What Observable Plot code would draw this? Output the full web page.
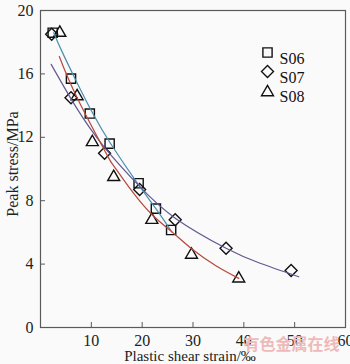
<!DOCTYPE html>
<html>
<head>
<meta charset="utf-8">
<script src="https://cdn.jsdelivr.net/npm/d3@7"></script>
<script src="https://cdn.jsdelivr.net/npm/@observablehq/plot@0.6"></script>
<style>
  html, body { margin: 0; padding: 0; background: #fafafa; }
  #chart svg { display: block; background: #fafafa; }
</style>
</head>
<body>
<div id="chart"></div>
<script>
// ---- data ----
const seriesNames = ["S06", "S07", "S08"];
const s06Strain = [2.4, 6.0, 9.7, 13.6, 19.3, 22.7, 25.7];
const s06Stress = [18.6, 15.7, 13.5, 11.6, 9.1, 7.5, 6.15];
const s07Strain = [2.2, 6.0, 12.6, 19.5, 26.5, 36.5, 49.3];
const s07Stress = [18.5, 14.5, 11.0, 8.7, 6.8, 5.0, 3.6];
const s08Strain = [3.8, 7.2, 10.2, 14.4, 21.9, 29.7, 39.0];
const s08Stress = [18.7, 14.7, 11.8, 9.6, 6.9, 4.7, 3.2];
// fitted curves, points
const fit06Strain = [2.6, 4.1, 6.8, 10.3, 14.0, 19.3, 22.7, 25.9];
const fit06Stress = [18.6, 17.5, 15.7, 13.5, 11.5, 9.0, 7.5, 6.0];
const fit07Strain = [2.1, 7.0, 12.5, 19.5, 26.5, 36.5, 43.2, 50.8];
const fit07Stress = [16.6, 13.9, 11.4, 8.9, 6.9, 5.0, 4.05, 3.2];
const fit08Strain = [3.7, 7.2, 12.9, 14.4, 18.0, 22.0, 25.8, 29.8, 34.5, 39.0];
const fit08Stress = [17.1, 14.5, 11.0, 10.2, 8.6, 7.1, 6.05, 4.95, 3.9, 3.1];
const xTicks = [10, 20, 30, 40, 50, 60];
const yTicks = [0, 4, 8, 12, 16, 20];
const xLabel = "Plastic shear strain/‰";
const yLabel = "Peak stress/MPa";
const watermark = "有色金属在线";

// ---- build ----
const zip = (xs, ys) => xs.map((x, i) => ({x, y: ys[i]}));
const pts = [zip(s06Strain, s06Stress), zip(s07Strain, s07Stress), zip(s08Strain, s08Stress)];
const fits = [zip(fit06Strain, fit06Stress), zip(fit07Strain, fit07Stress), zip(fit08Strain, fit08Stress)];
const lineColors = ["#4a8fab", "#5f5a92", "#b8473a"];

const symSquare = {draw(c) { const h = 4.6; c.rect(-h, -h, 2*h, 2*h); }};
const symDiamond = {draw(c) { const h = 6; c.moveTo(0, -h); c.lineTo(h, 0); c.lineTo(0, h); c.lineTo(-h, 0); c.closePath(); }};
const symTriangle = {draw(c) { const s = 12, hh = s * Math.sqrt(3) / 2; c.moveTo(0, -hh/2); c.lineTo(s/2, hh/2); c.lineTo(-s/2, hh/2); c.closePath(); }};
const symbols = [symSquare, symDiamond, symTriangle];

const font = "'Liberation Serif', 'Times New Roman', serif";
const marks = [
  Plot.frame({stroke: "#5a5a5a", strokeWidth: 1.2}),
  Plot.ruleX(xTicks, {x: d => d, y1: 0, y2: 0, insetTop: -5, stroke: "#5a5a5a"}),
  Plot.ruleY(yTicks, {y: d => d, x1: 0, x2: 0, insetRight: -5, stroke: "#5a5a5a"}),
  Plot.axisX(xTicks, {tickSize: 0, tickPadding: 7, fontSize: 16, fontFamily: font, label: null, color: "#222"}),
  Plot.axisY(yTicks, {tickSize: 0, tickPadding: 7, fontSize: 16, fontFamily: font, label: null, color: "#222"}),
  Plot.text([xLabel], {frameAnchor: "bottom", dx: -3, dy: 29, textAnchor: "middle", fontSize: 15, fontFamily: font, fill: "#222", lineAnchor: "middle"}),
  Plot.text([yLabel], {frameAnchor: "left", dx: -28, dy: -5, rotate: -90, textAnchor: "middle", fontSize: 16, fontFamily: font, fill: "#222"}),
  Plot.text([watermark], {frameAnchor: "bottom-right", dx: -6, dy: 22, textAnchor: "end", fontSize: 16,
    fill: "#f0b9b9", fontFamily: "'Noto Sans CJK SC', sans-serif", fontWeight: "bold"})
];
pts.forEach((p, i) => {
  marks.push(Plot.dot(p, {x: "x", y: "y", symbol: symbols[i], r: 5, stroke: "#111", strokeWidth: 1.4, fill: "none"}));
});
fits.forEach((f, i) => {
  marks.push(Plot.line(f, {x: "x", y: "y", curve: "natural", stroke: lineColors[i], strokeWidth: 1.2}));
});
seriesNames.forEach((name, i) => {
  marks.push(Plot.dot([name], {frameAnchor: "top-right", dx: -78, dy: 42 + 19 * i, symbol: symbols[i], r: 5,
    stroke: "#111", strokeWidth: 1.4, fill: "none"}));
  marks.push(Plot.text([name], {frameAnchor: "top-right", dx: -66, dy: 42 + 19 * i, textAnchor: "start",
    fontSize: 16, fontFamily: font, fill: "#111"}));
});

const chart = Plot.plot({
  width: 350,
  height: 364,
  marginLeft: 40,
  marginRight: 5,
  marginTop: 10,
  marginBottom: 37,
  style: {fontFamily: font, background: "#fafafa"},
  x: {domain: [0, 60]},
  y: {domain: [0, 20]},
  marks
});
document.getElementById("chart").appendChild(chart);
</script>
</body>
</html>
